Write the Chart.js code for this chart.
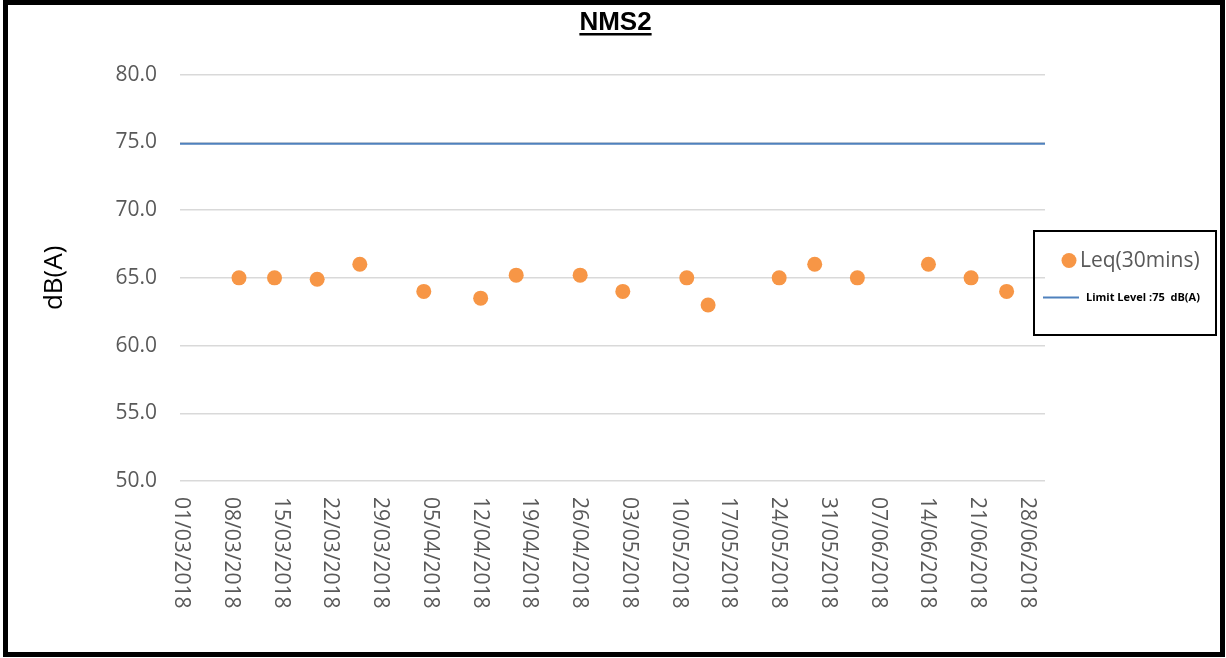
<!DOCTYPE html>
<html>
<head>
<meta charset="utf-8">
<script src="https://cdn.jsdelivr.net/npm/chart.js@4.4.0/dist/chart.umd.min.js"></script>
<style>
    body { margin: 0; background: #fff; }
    #wrap { position: absolute; left: 0; top: 0; width: 1226px; height: 658px; }
    #frame { position: absolute; left: 3px; top: 0; width: 1222px; height: 657px;
             border: 5px solid #000; box-sizing: border-box; pointer-events: none; }
</style>
</head>
<body>
<div id="wrap"><canvas id="nmsChart"></canvas></div>
<div id="frame"></div>
<script>
// x axis tick labels (weekly)
var tickLabels = ['01/03/2018', '08/03/2018', '15/03/2018', '22/03/2018', '29/03/2018', '05/04/2018',
    '12/04/2018', '19/04/2018', '26/04/2018', '03/05/2018', '10/05/2018', '17/05/2018',
    '24/05/2018', '31/05/2018', '07/06/2018', '14/06/2018', '21/06/2018', '28/06/2018'];

// measurement dates and Leq(30mins) readings
var measureDates = ['09/03/2018', '14/03/2018', '20/03/2018', '26/03/2018', '04/04/2018', '12/04/2018',
    '17/04/2018', '26/04/2018', '02/05/2018', '11/05/2018', '14/05/2018', '24/05/2018',
    '29/05/2018', '04/06/2018', '14/06/2018', '20/06/2018', '25/06/2018'];
var leqValues = [65.0, 65.0, 64.9, 66.0, 64.0, 63.5, 65.2, 65.2, 64.0, 65.0, 63.0, 65.0, 66.0, 65.0, 66.0, 65.0, 64.0];

// limit level line, drawn across the whole axis
var limitValues = [74.9, 74.9];

var seriesNames = ['Leq(30mins)', 'Limit Level :75  dB(A)'];

var axisMin = -0.3, axisMax = 121.4;

function dayOf(str) {
    var p = str.split('/');
    return (Date.UTC(+p[2], +p[1] - 1, +p[0]) - Date.UTC(2018, 2, 1)) / 86400000;
}

var leqPoints = measureDates.map((d, i) => ({ x: dayOf(d), y: leqValues[i] }));
var limitPoints = [{ x: axisMin, y: limitValues[0] }, { x: axisMax, y: limitValues[1] }];

// vertical date labels reading top to bottom
var dateLabelsPlugin = {
    id: 'dateLabels',
    afterDraw(chart) {
        var ctx = chart.ctx, xs = chart.scales.x;
        ctx.save();
        ctx.font = '21px "Open Sans"';
        ctx.fillStyle = '#595959';
        ctx.textAlign = 'left';
        ctx.textBaseline = 'middle';
        tickLabels.forEach(lbl => {
            var x = xs.getPixelForValue(dayOf(lbl));
            ctx.save();
            ctx.translate(x, chart.chartArea.bottom + 16);
            ctx.rotate(Math.PI / 2);
            ctx.fillText(lbl, 0, 1);
            ctx.restore();
        });
        ctx.restore();
    }
};

// centre the title over the whole picture and underline it
var titlePlugin = {
    id: 'titleUnderline',
    afterLayout(chart) {
        chart.titleBlock.left = 5;
        chart.titleBlock.right = chart.width;
        chart.titleBlock.width = chart.width - 5;
    },
    afterDraw(chart) {
        var ctx = chart.ctx;
        ctx.save();
        ctx.font = 'bold 26px "Liberation Sans"';
        var w = ctx.measureText(chart.options.plugins.title.text).width;
        var cx = (chart.titleBlock.left + chart.titleBlock.right) / 2;
        ctx.fillStyle = '#000';
        ctx.fillRect(cx - w / 2, 33, w, 2.5);
        ctx.restore();
    }
};

// boxed legend on the right
var boxLegendPlugin = {
    id: 'boxLegend',
    afterDraw(chart) {
        var ctx = chart.ctx;
        ctx.save();
        ctx.strokeStyle = '#000';
        ctx.lineWidth = 2;
        ctx.strokeRect(1034, 231, 182, 104);

        ctx.fillStyle = '#F79646';
        ctx.beginPath();
        ctx.arc(1069, 260.5, 7.5, 0, Math.PI * 2);
        ctx.fill();
        ctx.font = '21px "Open Sans"';
        ctx.fillStyle = '#595959';
        ctx.textBaseline = 'middle';
        ctx.fillText(seriesNames[0], 1080, 261);

        ctx.strokeStyle = '#4F81BD';
        ctx.lineWidth = 2;
        ctx.beginPath();
        ctx.moveTo(1043, 297.5);
        ctx.lineTo(1079, 297.5);
        ctx.stroke();
        ctx.font = 'bold 11px "Open Sans"';
        ctx.fillStyle = '#000';
        ctx.fillText(seriesNames[1], 1086, 298);
        ctx.restore();
    }
};

var ctx = document.getElementById('nmsChart').getContext('2d');
var nmsChart = new Chart(ctx, {
    type: 'scatter',
    data: {
        datasets: [{
            label: seriesNames[0],
            data: leqPoints,
            backgroundColor: '#F79646',
            borderWidth: 0,
            pointRadius: 7.5,
            pointHoverRadius: 7.5,
            order: 1
        }, {
            type: 'line',
            label: seriesNames[1],
            data: limitPoints,
            borderColor: '#4F81BD',
            borderWidth: 2,
            pointRadius: 0,
            fill: false,
            order: 2
        }]
    },
    options: {
        responsive: true,
        maintainAspectRatio: false,
        animation: false,
        layout: {
            padding: { top: 0, right: 181, bottom: 0, left: 0 }
        },
        plugins: {
            legend: { display: false },
            tooltip: { enabled: false },
            title: {
                display: true,
                text: 'NMS2',
                color: '#000',
                font: { size: 26, weight: 'bold', family: '"Liberation Sans"' },
                padding: { top: 7, bottom: 36.5 }
            }
        },
        scales: {
            x: {
                type: 'linear',
                min: axisMin,
                max: axisMax,
                ticks: { display: false },
                grid: { display: false },
                border: { display: false },
                afterFit: function (scale) { scale.height = 177; }
            },
            y: {
                min: 50,
                max: 80,
                ticks: {
                    stepSize: 5,
                    padding: 23,
                    color: '#595959',
                    font: { size: 21, family: '"Open Sans"' },
                    callback: v => v.toFixed(1)
                },
                grid: { color: '#d9d9d9', lineWidth: 1.5, drawTicks: false },
                border: { display: false },
                title: {
                    display: true,
                    text: 'dB(A)',
                    color: '#000',
                    font: { size: 26, family: '"Open Sans"' },
                    padding: { top: 39, bottom: 0 }
                },
                afterFit: function (scale) { scale.width = 180; }
            }
        }
    },
    plugins: [dateLabelsPlugin, titlePlugin, boxLegendPlugin]
});
</script>
</body>
</html>
